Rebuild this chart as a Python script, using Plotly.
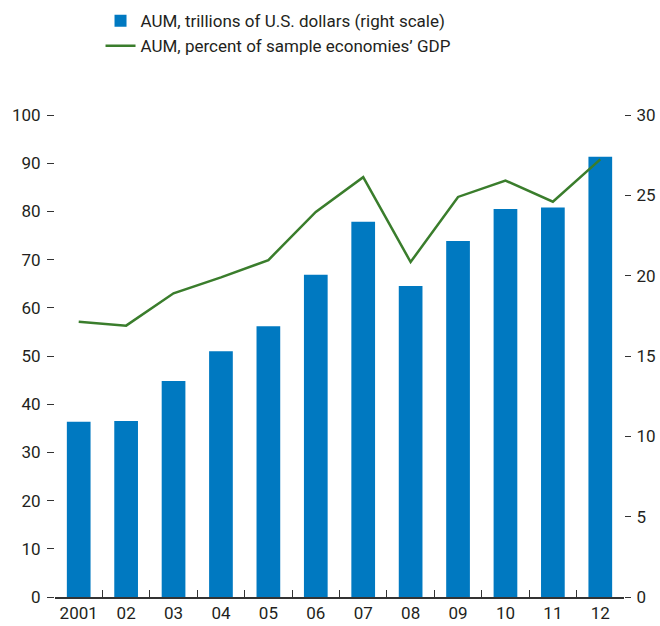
import plotly.graph_objects as go

years = ["2001", "02", "03", "04", "05", "06", "07", "08", "09", "10", "11", "12"]
aum_trillions = [10.9, 10.95, 13.45, 15.3, 16.85, 20.05, 23.35, 19.35, 22.15, 24.15, 24.25, 27.4]
aum_pct_gdp = [57.1, 56.3, 63.0, 66.3, 69.9, 79.9, 87.1, 69.5, 83.0, 86.4, 82.0, 90.8]

left_ticks = list(range(0, 101, 10))
right_ticks = list(range(0, 31, 5))

FONT = "Roboto, sans-serif"
FS = 17
TXT = "#231f20"
AX = "#333333"

xpos = list(range(len(years)))

fig = go.Figure()
fig.add_trace(go.Bar(
    x=xpos, y=aum_trillions, yaxis="y", width=0.5,
    marker=dict(color="#0079c1", line=dict(width=0)),
    name="AUM, trillions of U.S. dollars (right scale)",
))
fig.add_trace(go.Scatter(
    x=xpos, y=aum_pct_gdp, yaxis="y2", mode="lines",
    line=dict(color="#3a7d2c", width=2.5),
    name="AUM, percent of sample economies\u2019 GDP",
))

fig.update_layout(
    width=660, height=626,
    margin=dict(l=55, r=36, t=115, b=29, autoexpand=False),
    paper_bgcolor="white", plot_bgcolor="white",
    font=dict(family=FONT, size=FS, color=TXT),
    bargap=0.5,
    showlegend=True,
    legend=dict(
        x=0.08, y=1.232, xanchor="left", yanchor="top",
        font=dict(family=FONT, size=FS, color=TXT),
        bgcolor="rgba(0,0,0,0)", borderwidth=0,
        itemwidth=30, tracegroupgap=0,
    ),
    xaxis=dict(
        range=[-0.5, 11.5], automargin=False,
        tickmode="array", tickvals=xpos, ticktext=years,
        ticks="", showgrid=False, zeroline=False,
        showline=True, linecolor=AX, linewidth=1.5,
        tickfont=dict(family=FONT, size=FS, color=TXT),
        minor=dict(
            tickmode="array", tickvals=[i + 0.5 for i in range(len(years) - 1)],
            ticks="inside", ticklen=7, tickwidth=1.2, tickcolor=AX, showgrid=False,
        ),
    ),
    yaxis=dict(
        side="right", range=[0, 30], automargin=False,
        tickmode="array", tickvals=right_ticks,
        ticks="outside", ticklen=6, tickwidth=1.2, tickcolor=AX,
        ticklabelstandoff=2,
        showgrid=False, zeroline=False, showline=False,
        tickfont=dict(family=FONT, size=FS, color=TXT),
    ),
    yaxis2=dict(
        side="left", overlaying="y", range=[0, 100], automargin=False,
        tickmode="array", tickvals=left_ticks,
        ticks="outside", ticklen=7, tickwidth=1.2, tickcolor=AX,
        ticklabelstandoff=3,
        showgrid=False, zeroline=False, showline=False,
        tickfont=dict(family=FONT, size=FS, color=TXT),
    ),
)

fig.write_html(
    "out.html",
    config={"displayModeBar": False},
    post_script="document.body.style.margin='0';document.body.style.padding='0';document.body.style.overflow='hidden';",
)
